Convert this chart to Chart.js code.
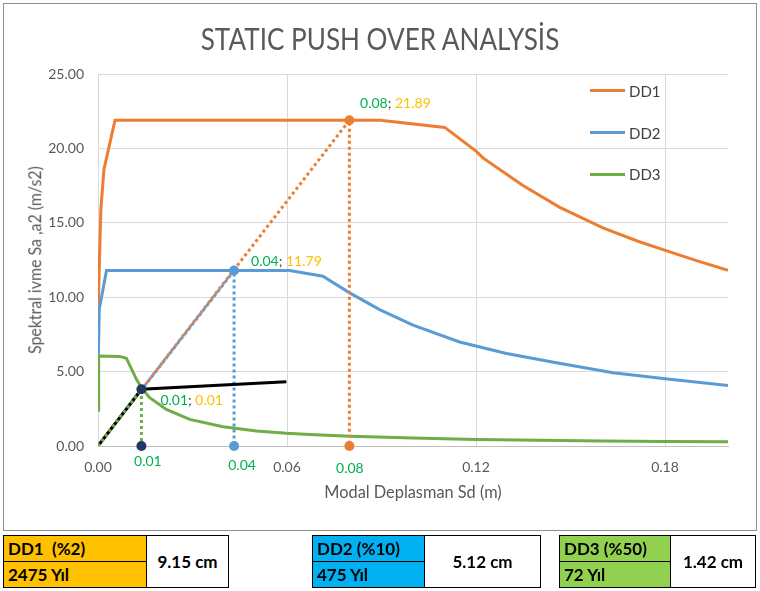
<!DOCTYPE html>
<html>
<head>
<meta charset="utf-8">
<script src="https://cdn.jsdelivr.net/npm/chart.js@4.4.1/dist/chart.umd.min.js"></script>
<style>
  html, body { margin:0; padding:0; background:#fff; width:760px; height:591px; overflow:hidden; }
  body { position:relative; font-family: Lato, "Noto Sans", sans-serif; }
  #frame { position:absolute; left:3px; top:3px; width:752px; height:526px; border:1px solid #8f8f8f; }
  #c { position:absolute; left:0; top:0; }
  .txt { position:absolute; white-space:nowrap; color:#595959; line-height:1.2; }
  #title { font-size:30px; left:379.5px; top:20.4px; transform-origin:center center; }
  #xtitle { font-size:18px; left:413px; top:481.2px; }
  #ytitle { font-size:18px; left:35px; top:260px; }
  .leg { position:absolute; left:590px; height:18px; display:flex; align-items:center; }
  .leg .ln { width:35px; height:3px; }
  .leg .lt { font-size:15px; color:#404040; margin-left:4px; line-height:18px; }
  .tbl { position:absolute; top:535px; height:53px; border:1px solid #000; box-sizing:border-box; font-weight:bold; font-size:17px; color:#000; }
  .tbl .l { position:absolute; left:0; top:0; bottom:0; border-right:1px solid #000; }
  .tbl .r1, .tbl .r2 { position:absolute; left:0; right:0; height:25px; line-height:25px; padding-left:4px; white-space:pre; }
  .tbl .r1 { top:0; border-bottom:1px solid #000; }
  .tbl .r2 { top:26px; }
  .tbl .v { position:absolute; top:0; bottom:0; right:0; display:flex; align-items:center; justify-content:center; }
</style>
</head>
<body>
<div id="frame"></div>
<canvas id="c" width="760" height="530"></canvas>
<div id="title" class="txt">STATIC PUSH OVER ANALYSİS</div>
<div id="xtitle" class="txt">Modal Deplasman Sd (m)</div>
<div id="ytitle" class="txt">Spektral ivme Sa ,a2 (m/s2)</div>
<div id="legend"></div>
<div id="tables"></div>
<script>
// ---- Data ----
const seriesNames = ['DD1', 'DD2', 'DD3'];
const dd1X = [0, 0.0009, 0.0019, 0.0054, 0.0896, 0.1101, 0.1201, 0.1222, 0.1349, 0.1466, 0.1603, 0.1714, 0.1801, 0.1900, 0.2000];
const dd1Y = [8.76, 15.9, 18.6, 21.89, 21.89, 21.41, 19.80, 19.36, 17.50, 16.04, 14.66, 13.76, 13.15, 12.46, 11.81];
const dd2X = [0, 0.0004, 0.0027, 0.0608, 0.0714, 0.0799, 0.0894, 0.1000, 0.1148, 0.1297, 0.1455, 0.1635, 0.1801, 0.2000];
const dd2Y = [4.72, 9.2, 11.79, 11.79, 11.41, 10.29, 9.17, 8.12, 6.99, 6.22, 5.60, 4.93, 4.52, 4.07];
const dd3X = [0, 0.0002, 0.0069, 0.0090, 0.0122, 0.0138, 0.0164, 0.0217, 0.0291, 0.0397, 0.0503, 0.0598, 0.0672, 0.0800, 0.1000, 0.1200, 0.1400, 0.1600, 0.1800, 0.2000];
const dd3Y = [2.40, 6.04, 6.02, 5.90, 4.48, 3.92, 3.25, 2.46, 1.79, 1.30, 1.01, 0.85, 0.78, 0.66, 0.53, 0.44, 0.38, 0.33, 0.30, 0.28];
const capX = [0, 0.01378, 0.0598];
const capY = [0, 3.81, 4.32];
// performance points: DD3, DD2, DD1
const perfX = [0.01378, 0.0432, 0.0798];
const perfY = [3.81, 11.79, 21.89];
const perfXText = ['0.01', '0.04', '0.08'];
const perfYText = ['0.01', '11.79', '21.89'];
const xTicks = [0, 0.06, 0.12, 0.18];
const xTickLabels = ['0.00', '0.06', '0.12', '0.18'];
const yTicks = [0, 5, 10, 15, 20, 25];
const yTickLabels = ['0.00', '5.00', '10.00', '15.00', '20.00', '25.00'];
const tableTitles = ['DD1  (%2)', 'DD2 (%10)', 'DD3 (%50)'];
const tableYears = ['2475 Yıl', '475 Yıl', '72 Yıl'];
const tableValues = ['9.15 cm', '5.12 cm', '1.42 cm'];

// ---- Styles ----
const C_OR = '#ED7D31', C_BL = '#5B9BD5', C_GR = '#70AD47', C_NV = '#1F3864';
const seriesColors = [C_OR, C_BL, C_GR];
const perfColors = [C_GR, C_BL, C_OR];
const markerColors = [C_NV, C_BL, C_OR];

const pts = (xs, ys) => xs.map((x, i) => ({x, y: ys[i]}));
const perfLine = i => [{x:0, y:0}, {x:perfX[i], y:perfY[i]}, {x:perfX[i], y:0}];
const markers = i => [{x:perfX[i], y:perfY[i]}, {x:perfX[i], y:0}];

const lineDs = (data, color, extra) => Object.assign({
  data, borderColor: color, backgroundColor: color, borderWidth: 3,
  showLine: true, pointRadius: 0, pointHoverRadius: 0, fill: false, tension: 0
}, extra || {});
const markerDs = i => ({data: markers(i), showLine:false, pointRadius:5, pointHoverRadius:5,
  pointBackgroundColor:markerColors[i], pointBorderColor:markerColors[i], pointBorderWidth:0, clip:false});

const datasets = [
  markerDs(0), markerDs(1), markerDs(2),
  lineDs(perfLine(0), perfColors[0], {borderWidth:3, borderDash:[3,3]}),
  lineDs(pts(capX, capY), '#000000', {borderWidth:3}),
  lineDs(perfLine(1), perfColors[1], {borderWidth:3, borderDash:[3,3], borderDashOffset:3}),
  lineDs(perfLine(2), perfColors[2], {borderWidth:3, borderDash:[3,3]}),
  lineDs(pts(dd3X, dd3Y), seriesColors[2]),
  lineDs(pts(dd2X, dd2Y), seriesColors[1]),
  lineDs(pts(dd1X, dd1Y), seriesColors[0])
];

// label offsets (style)
const topOff = [[19, 11], [17, -9.5], [10.7, -16.5]];
const botOff = [[6.5, 15], [8, 19.5], [0.5, 22.5]];

const labelPlugin = {
  id: 'perfLabels',
  afterDatasetsDraw(chart) {
    const ctx = chart.ctx, xs = chart.scales.x, ys = chart.scales.y;
    ctx.save();
    ctx.font = '14px Lato, "Noto Sans", sans-serif';
    ctx.textBaseline = 'middle';
    for (let i = 0; i < perfX.length; i++) {
      const px = xs.getPixelForValue(perfX[i]);
      const py = ys.getPixelForValue(perfY[i]);
      let x = px + topOff[i][0];
      const y = py + topOff[i][1];
      ctx.textAlign = 'left';
      const parts = [[perfXText[i], '#00B050'], ['; ', '#404040'], [perfYText[i], '#FFC000']];
      for (const [t, c] of parts) { ctx.fillStyle = c; ctx.fillText(t, x, y); x += ctx.measureText(t).width; }
      const py0 = ys.getPixelForValue(0);
      ctx.textAlign = 'center';
      ctx.fillStyle = '#00B050';
      ctx.fillText(perfXText[i], px + botOff[i][0], py0 + botOff[i][1]);
    }
    ctx.restore();
  }
};

new Chart(document.getElementById('c'), {
  type: 'scatter',
  data: { datasets },
  options: {
    responsive: false, animation: false, devicePixelRatio: 1,
    layout: { padding: { left: 0, top: 74, right: 32, bottom: 54 } },
    plugins: { legend: {display:false}, title: {display:false}, tooltip: {enabled:false} },
    events: [],
    scales: {
      x: {
        type: 'linear', min: 0, max: 0.2,
        afterBuildTicks: s => { s.ticks = xTicks.map(v => ({value: v})); },
        afterFit: s => { s.height = 30; },
        ticks: { callback: (v, i) => xTickLabels[i], color:'#595959', padding: 13, maxRotation:0, autoSkip:false,
                 font: {family: 'Lato, "Noto Sans", sans-serif', size: 14} },
        grid: { color: '#D9D9D9', drawTicks: false, lineWidth: 1 },
        border: { color: '#BFBFBF', width: 1 }
      },
      y: {
        type: 'linear', min: 0, max: 25,
        afterBuildTicks: s => { s.ticks = yTicks.map(v => ({value: v})); },
        afterFit: s => { s.width = 98; },
        ticks: { callback: (v, i) => yTickLabels[i], color:'#595959', padding: 14,
                 font: {family: 'Lato, "Noto Sans", sans-serif', size: 14} },
        grid: { color: '#D9D9D9', drawTicks: false, lineWidth: 1 },
        border: { color: '#D9D9D9', width: 1 }
      }
    }
  },
  plugins: [labelPlugin]
});

// ---- Legend (HTML) ----
const legendYs = [90.7, 132.7, 174.3];
const lg = document.getElementById('legend');
seriesNames.forEach((n, i) => {
  const d = document.createElement('div');
  d.className = 'leg';
  d.style.top = (legendYs[i] - 9) + 'px';
  d.innerHTML = '<div class="ln" style="background:' + seriesColors[i] + '"></div><div class="lt">' + n + '</div>';
  lg.appendChild(d);
});

// ---- Tables (HTML) ----
const tblBoxes = [[3, 146, 229], [312, 424, 541], [559, 670, 756]];
const tblColors = ['#FFC000', '#00B0F0', '#92D050'];
const tb = document.getElementById('tables');
tableTitles.forEach((t, i) => {
  const [a, b, c] = tblBoxes[i];
  const d = document.createElement('div');
  d.className = 'tbl';
  d.style.left = a + 'px'; d.style.width = (c - a) + 'px';
  d.innerHTML = '<div class="l" style="width:' + (b - a - 1) + 'px;background:' + tblColors[i] + '">' +
    '<div class="r1">' + t + '</div><div class="r2">' + tableYears[i] + '</div></div>' +
    '<div class="v" style="left:' + (b - a) + 'px">' + tableValues[i] + '</div>';
  tb.appendChild(d);
});

// ---- fit texts ----
function fit(id, target, rot) {
  const el = document.getElementById(id);
  const k = target / el.offsetWidth;
  el.style.transform = 'translate(-50%, ' + (rot ? '-50%' : '0') + ')' + (rot ? ' rotate(-90deg)' : '') + ' scaleX(' + k + ')';
}
fit('title', 359, false);
fit('xtitle', 177, false);
fit('ytitle', 188, true);
</script>
</body>
</html>
